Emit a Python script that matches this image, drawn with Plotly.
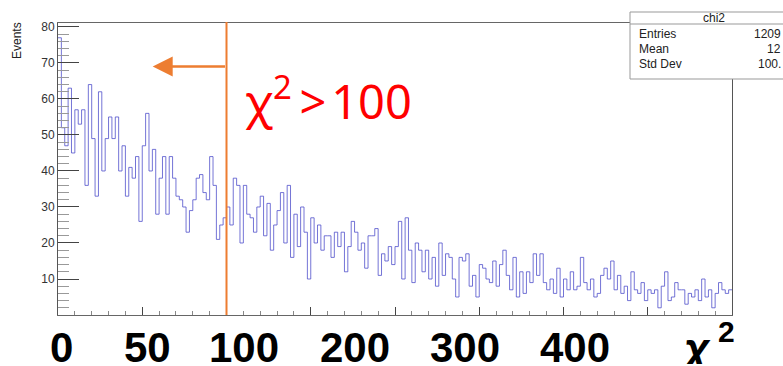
import numpy as np
import plotly.graph_objects as go

# ---- data ----
x_min, x_max = 0, 400
counts = [
    77, 52, 47, 63, 45, 57, 53, 57, 36, 64, 49, 33, 62, 40, 49, 55, 49, 55, 40, 47,
    33, 41, 38, 44, 26, 47, 56, 40, 46, 28, 38, 44, 28, 44, 38, 33, 32, 30, 23, 29,
    32, 38, 39, 34, 32, 44, 36, 21, 25, 27, 30, 25, 38, 36, 20, 36, 28, 27, 23, 30,
    33, 22, 31, 18, 25, 29, 34, 20, 36, 16, 28, 19, 30, 23, 10, 27, 20, 25, 18, 22,
    22, 16, 23, 19, 23, 12, 19, 26, 23, 18, 20, 13, 22, 22, 24, 11, 17, 15, 19, 14,
    19, 26, 10, 27, 18, 9, 20, 18, 12, 18, 10, 16, 8, 20, 11, 17, 16, 10, 5, 16,
    15, 17, 8, 11, 5, 14, 13, 10, 9, 15, 8, 14, 18, 11, 7, 16, 5, 12, 6, 12,
    9, 17, 11, 17, 9, 7, 10, 6, 13, 5, 10, 7, 12, 7, 8, 16, 9, 7, 10, 5,
    6, 11, 13, 10, 15, 7, 11, 6, 8, 4, 12, 7, 6, 9, 4, 7, 6, 7, 2, 8,
    12, 4, 5, 9, 7, 7, 3, 6, 5, 7, 4, 10, 5, 7, 2, 6, 9, 7, 6, 7,
]
hist_name = "chi2"
stat_labels = ["Entries", "Mean", "Std Dev"]
stat_values = ["1209", "12", "100."]
big_labels = ["0", "50", "100", "200", "300", "400"]
y_tick_vals = [10, 20, 30, 40, 50, 60, 70, 80]
cut_value = 100
cut_text = "χ<sup>2</sup>\u2009&gt;\u200a100"
y_title = "Events"

# ---- geometry helpers ----
W, H = 783, 366
L, R, T, B = 58, 732, 23, 315


def px(xp):
    return (xp - L) / (R - L)


def py(yp):
    return (B - yp) / (B - T)


edges = np.linspace(x_min, x_max, len(counts) + 1)
yvals = list(counts) + [counts[-1]]

fig = go.Figure()
fig.add_trace(go.Scatter(
    x=edges, y=yvals, mode="lines", line=dict(shape="hv", color="rgba(70,70,200,0.75)", width=1),
    hoverinfo="skip", showlegend=False,
))

fig.update_layout(
    width=W, height=H, margin=dict(l=L, r=W - R, t=T, b=H - B),
    paper_bgcolor="white", plot_bgcolor="white",
    font=dict(family="Liberation Sans, Arial, sans-serif", color="#333"),
    showlegend=False,
)
fig.update_xaxes(
    range=[x_min, x_max], showgrid=False, zeroline=False, showticklabels=False,
    ticks="inside", tick0=0, dtick=50, ticklen=8, tickcolor="#444", tickwidth=1,
    minor=dict(ticks="inside", dtick=10, ticklen=4, tickcolor="#888", showgrid=False),
    showline=True, linecolor="#666", linewidth=1, mirror=True,
)
fig.update_yaxes(
    range=[0, 81.1], showgrid=False, zeroline=False,
    tickmode="array", tickvals=y_tick_vals,
    ticks="inside", ticklen=21, tickcolor="#444", tickwidth=1,
    minor=dict(ticks="inside", tick0=0, dtick=2, ticklen=11, tickcolor="#999", showgrid=False),
    tickfont=dict(size=12, color="#333"),
    showline=True, linecolor="#555", linewidth=1, mirror=True,
)

shapes = []
# cut line
shapes.append(dict(type="line", xref="x", yref="paper", x0=cut_value, x1=cut_value,
                   y0=0, y1=py(22), line=dict(color="#ED7D31", width=2)))
# stats box
shapes.append(dict(type="rect", xref="paper", yref="paper", x0=px(630), x1=px(800),
                   y0=py(79), y1=py(12), fillcolor="white", line=dict(color="#999", width=1),
                   layer="above"))
shapes.append(dict(type="line", xref="paper", yref="paper", x0=px(630), x1=px(800),
                   y0=py(24), y1=py(24), line=dict(color="#999", width=1), layer="above"))
fig.update_layout(shapes=shapes)

ann = []
# y title
ann.append(dict(text=y_title, xref="paper", yref="paper", x=px(17), y=py(41),
                textangle=-90, showarrow=False, font=dict(size=12, color="#222"),
                xanchor="center", yanchor="middle"))
# arrow
ann.append(dict(text="", x=56.2, y=69.0, ax=cut_value, ay=69.0, xref="x", yref="y",
                axref="x", ayref="y", showarrow=True, arrowhead=2, arrowsize=1.6,
                arrowwidth=2.5, arrowcolor="#ED7D31", standoff=0, startstandoff=0))
# red text
ann.append(dict(text=cut_text, xref="paper", yref="paper", x=px(243), y=py(98),
                xanchor="left", yanchor="middle", showarrow=False,
                font=dict(family="Noto Sans", size=47, color="#FF0000")))
# big labels
centers = [61, 147, 244, 354.5, 464.5, 574.5]
for lab, c in zip(big_labels, centers):
    ann.append(dict(text="<b>" + lab + "</b>", xref="paper", yref="paper", x=px(c), y=py(366),
                    xanchor="center", yanchor="bottom", showarrow=False,
                    height=40, valign="top",
                    font=dict(family="Liberation Sans", size=42, color="black")))
ann.append(dict(text="<b><i>χ</i></b>", xref="paper", yref="paper", x=px(695), y=py(366),
                xanchor="center", yanchor="bottom", showarrow=False,
                height=40, valign="top",
                font=dict(family="Liberation Sans", size=44, color="black")))
ann.append(dict(text="<b>2</b>", xref="paper", yref="paper", x=px(726), y=py(331),
                xanchor="center", yanchor="middle", showarrow=False,
                font=dict(family="Liberation Sans", size=30, color="black")))
# stats box text
ann.append(dict(text=hist_name, xref="paper", yref="paper", x=px(714), y=py(18),
                xanchor="center", yanchor="middle", showarrow=False,
                font=dict(size=12, color="#222")))
for i, (lab, val) in enumerate(zip(stat_labels, stat_values)):
    yy = 34 + 15 * i
    ann.append(dict(text=lab, xref="paper", yref="paper", x=px(637), y=py(yy),
                    xanchor="left", yanchor="middle", showarrow=False,
                    font=dict(size=12, color="#222")))
    ann.append(dict(text=val, xref="paper", yref="paper", x=px(783), y=py(yy),
                    xanchor="right", yanchor="middle", showarrow=False,
                    font=dict(size=12, color="#222")))
fig.update_layout(annotations=ann)

fig.write_html("out.html")
